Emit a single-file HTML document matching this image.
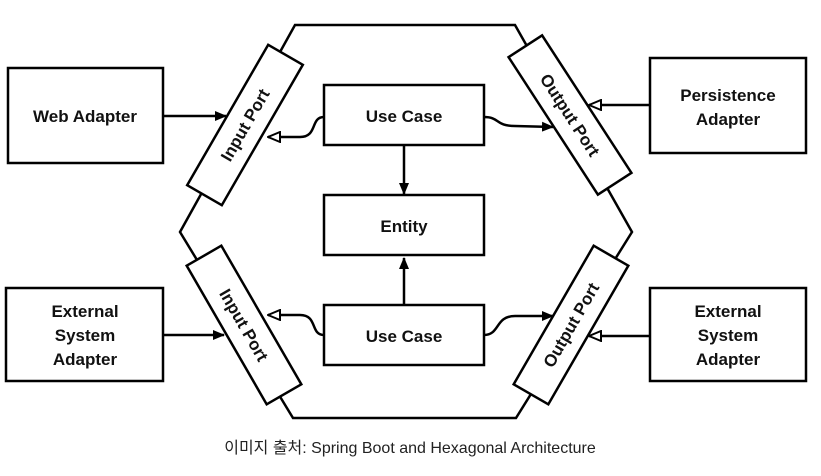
<!DOCTYPE html>
<html><head><meta charset="utf-8"><style>
body{margin:0;background:#fff;width:821px;height:471px;overflow:hidden}
text{font-family:"Liberation Sans",sans-serif;font-weight:bold;font-size:17px;fill:#111}
</style></head><body>
<svg width="821" height="471" viewBox="0 0 821 471" xmlns="http://www.w3.org/2000/svg">
<defs>
<marker id="f" markerWidth="12" markerHeight="10" refX="11" refY="5" orient="auto" markerUnits="userSpaceOnUse"><path d="M0,0 L12,5 L0,10 Z" fill="#000"/></marker>
<marker id="h" markerWidth="14" markerHeight="12" refX="13" refY="6" orient="auto" markerUnits="userSpaceOnUse"><path d="M1,1 L13,6 L1,11 Z" fill="#fff" stroke="#000" stroke-width="2"/></marker>
</defs>
<g stroke="#000" stroke-width="2.5" fill="#fff">
<polygon points="295,25 515,25 632,232 516,418 293,418 180,232"/>
<rect x="8" y="68" width="155" height="95"/>
<rect x="650" y="58" width="156" height="95"/>
<rect x="6" y="288" width="157" height="93"/>
<rect x="650" y="288" width="156" height="93"/>
<rect x="324" y="85" width="160" height="60"/>
<rect x="324" y="195" width="160" height="60"/>
<rect x="324" y="305" width="160" height="60"/>
<rect x="-81" y="-20" width="162" height="40" transform="translate(245,125) rotate(-60)"/>
<rect x="-82" y="-20" width="164" height="40" transform="translate(570,115) rotate(57)"/>
<rect x="-80" y="-20" width="160" height="40" transform="translate(244,325) rotate(60)"/>
<rect x="-80" y="-20" width="160" height="40" transform="translate(571,325) rotate(-60)"/>
</g>
<g stroke="#000" stroke-width="2.5" fill="none">
<line x1="163" y1="116" x2="226" y2="116" marker-end="url(#f)"/>
<line x1="650" y1="105" x2="589" y2="105" marker-end="url(#h)"/>
<line x1="163" y1="335" x2="224" y2="335" marker-end="url(#f)"/>
<line x1="650" y1="336" x2="589" y2="336" marker-end="url(#h)"/>
<path d="M324,117 C310,117 318,137 300,137 L268,137" marker-end="url(#h)"/>
<path d="M484,117 C500,117 495,126 515,126 L553,127" marker-end="url(#f)"/>
<line x1="404" y1="145" x2="404" y2="194" marker-end="url(#f)"/>
<line x1="404" y1="305" x2="404" y2="258" marker-end="url(#f)"/>
<path d="M324,335 C310,335 318,315 300,315 L268,315" marker-end="url(#h)"/>
<path d="M484,335 C500,335 495,316 515,316 L553,316" marker-end="url(#f)"/>
</g>
<text x="85" y="122" text-anchor="middle">Web Adapter</text>
<text x="728" y="101" text-anchor="middle">Persistence</text>
<text x="728" y="125" text-anchor="middle">Adapter</text>
<text x="85" y="317" text-anchor="middle">External</text>
<text x="85" y="341" text-anchor="middle">System</text>
<text x="85" y="365" text-anchor="middle">Adapter</text>
<text x="728" y="317" text-anchor="middle">External</text>
<text x="728" y="341" text-anchor="middle">System</text>
<text x="728" y="365" text-anchor="middle">Adapter</text>
<text x="404" y="122" text-anchor="middle">Use Case</text>
<text x="404" y="232" text-anchor="middle">Entity</text>
<text x="404" y="342" text-anchor="middle">Use Case</text>
<text text-anchor="middle" transform="translate(245,125) rotate(-60)" y="6">Input Port</text>
<text text-anchor="middle" transform="translate(570,115) rotate(57)" y="6">Output Port</text>
<text text-anchor="middle" transform="translate(244,325) rotate(60)" y="6">Input Port</text>
<text text-anchor="middle" transform="translate(571,325) rotate(-60)" y="6">Output Port</text>
<text x="410" y="453" text-anchor="middle" style="font-weight:normal;font-size:16px;font-family:'Liberation Sans','Noto Sans CJK KR',sans-serif;fill:#222">이미지 출처: Spring Boot and Hexagonal Architecture</text>
</svg>
</body></html>
